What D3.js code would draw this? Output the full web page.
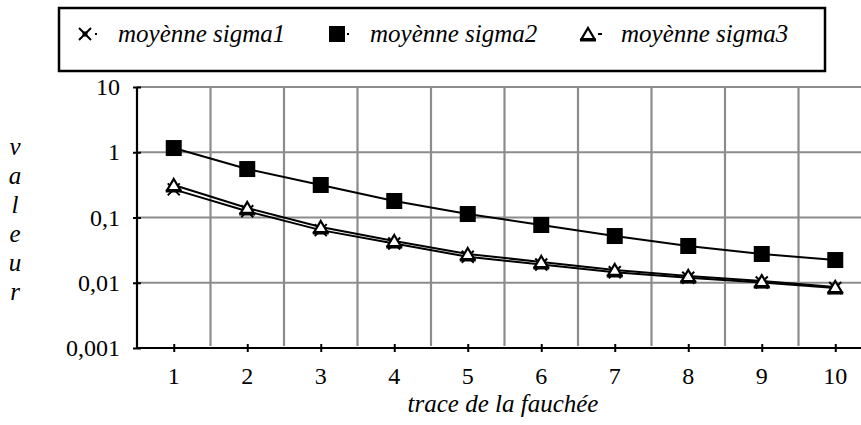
<!DOCTYPE html>
<html>
<head>
<meta charset="utf-8">
<script src="https://cdn.jsdelivr.net/npm/d3@7"></script>
<style>
  html, body { margin: 0; padding: 0; background: #fff; }
  svg { display: block; }
  text { font-family: "Liberation Serif", "Times New Roman", serif; fill: #000; }
</style>
</head>
<body>
<svg id="chart" width="861" height="425"></svg>
<script>
// Swath trace positions and the three averaged sigma series (log scale)
const categories = [1, 2, 3, 4, 5, 6, 7, 8, 9, 10];
const sigma1 = [0.27, 0.125, 0.064, 0.040, 0.025, 0.019, 0.0145, 0.0119, 0.0101, 0.0083];
const sigma2 = [1.16, 0.553, 0.315, 0.179, 0.113, 0.0767, 0.052, 0.0366, 0.0276, 0.0223];
const sigma3 = [0.315, 0.140, 0.0715, 0.0436, 0.0276, 0.0208, 0.0157, 0.0127, 0.0106, 0.0086];
const yTicks = [0.001, 0.01, 0.1, 1, 10];
const yTickLabels = ["0,001", "0,01", "0,1", "1", "10"];
const seriesNames = ["moyènne sigma1", "moyènne sigma2", "moyènne sigma3"];
const yTitle = "valeur";
const xTitle = "trace de la fauchée";

const svg = d3.select("#chart");
const W = 861;
const plot = { left: 137, top: 87, bottom: 348, width: 735 };
const TICK_FS = 24;
const TITLE_FS = 25;

const x = d3.scalePoint().domain(categories)
  .range([plot.left, plot.left + plot.width]).padding(0.5);
const step = x.step();
const y = d3.scaleLog().domain([0.001, 10]).range([plot.bottom, plot.top]);

function label(parent, px, py, str, anchor, italic, size) {
  return parent.append("text")
    .attr("x", px).attr("y", py)
    .attr("text-anchor", anchor || "start")
    .attr("font-size", size)
    .attr("font-style", italic ? "italic" : "normal")
    .text(str);
}

const grid = svg.append("g").attr("stroke", "#8c8c8c").attr("stroke-width", 2.2);
// horizontal gridlines at each decade above the floor
grid.selectAll("line.h").data(yTicks.slice(1)).join("line")
  .attr("class", "h")
  .attr("x1", plot.left).attr("x2", W)
  .attr("y1", d => y(d)).attr("y2", d => y(d));
// vertical gridlines between categories
grid.selectAll("line.v").data(categories).join("line")
  .attr("class", "v")
  .attr("x1", d => x(d) + step / 2).attr("x2", d => x(d) + step / 2)
  .attr("y1", plot.top).attr("y2", plot.bottom - 2);

// Y axis: crossing tick marks plus comma-decimal labels
const yAxis = svg.append("g")
  .attr("transform", `translate(${plot.left},0)`)
  .call(d3.axisLeft(y).tickValues(yTicks).tickFormat("").tickSize(4));
yAxis.select(".domain").remove();
yAxis.selectAll(".tick line").attr("x1", -4).attr("x2", 4)
  .attr("stroke", "#000").attr("stroke-width", 2);
const yLabels = svg.append("g");
yTicks.forEach((t, i) => label(yLabels, plot.left - 17, y(t) + 8, yTickLabels[i], "end", false, TICK_FS));
svg.append("line").attr("x1", plot.left).attr("x2", plot.left)
  .attr("y1", plot.top).attr("y2", plot.bottom + 1)
  .attr("stroke", "#000").attr("stroke-width", 2.2);

// X axis: crossing tick marks at each category
const xAxis = svg.append("g")
  .attr("transform", `translate(0,${plot.bottom})`)
  .call(d3.axisBottom(x).tickFormat("").tickSize(4));
xAxis.select(".domain").remove();
xAxis.selectAll(".tick line").attr("y1", -4).attr("y2", 4)
  .attr("stroke", "#000").attr("stroke-width", 2);
const xLabels = svg.append("g");
categories.forEach(c => label(xLabels, x(c), 384, String(c), "middle", false, TICK_FS));
svg.append("line").attr("x1", plot.left - 1).attr("x2", W)
  .attr("y1", plot.bottom).attr("y2", plot.bottom)
  .attr("stroke", "#000").attr("stroke-width", 2.2);

// axis titles
label(svg, 503, 412, xTitle, "middle", true, TITLE_FS);
const yt = svg.append("g");
yTitle.split("").forEach((ch, i) => label(yt, 15, 155 + i * 29, ch, "middle", true, TITLE_FS));

// marker shapes
function drawMarker(g, type) {
  if (type === "x") {
    g.append("path").attr("d", "M-6,-6L6,6M6,-6L-6,6")
      .attr("stroke", "#000").attr("stroke-width", 2).attr("fill", "none");
    g.append("rect").attr("x", -2.5).attr("y", -2.5).attr("width", 5).attr("height", 5).attr("fill", "#000");
  } else if (type === "square") {
    g.append("rect").attr("x", -8).attr("y", -8).attr("width", 16).attr("height", 16).attr("fill", "#000");
  } else {
    g.append("path").attr("d", "M0,-6L6.5,5L-6.5,5Z")
      .attr("fill", "#fff").attr("stroke", "#000").attr("stroke-width", 2.2);
    g.append("rect").attr("x", -8).attr("y", 4.5).attr("width", 16).attr("height", 3).attr("fill", "#000");
  }
}

const series = [
  { values: sigma1, marker: "x" },
  { values: sigma2, marker: "square" },
  { values: sigma3, marker: "triangle" }
];
const line = d3.line().x((d, i) => x(categories[i])).y(d => y(d));

series.forEach(s => {
  const g = svg.append("g");
  g.append("path").datum(s.values).attr("d", line)
    .attr("fill", "none").attr("stroke", "#000").attr("stroke-width", 2);
  g.selectAll("g.m").data(s.values).join("g").attr("class", "m")
    .attr("transform", (d, i) => `translate(${x(categories[i])},${y(d)})`)
    .each(function () { drawMarker(d3.select(this), s.marker); });
});

// legend box
const legend = svg.append("g");
legend.append("rect").attr("x", 59).attr("y", 8).attr("width", 766).attr("height", 63)
  .attr("fill", "#fff").attr("stroke", "#000").attr("stroke-width", 2.5);
const legendX = [85, 337, 588];
series.forEach((s, i) => {
  const g = legend.append("g").attr("transform", `translate(${legendX[i]},34)`);
  drawMarker(g, s.marker);
  g.append("line").attr("x1", 10).attr("x2", i === 2 ? 14 : 12).attr("y1", 0).attr("y2", 0)
    .attr("stroke", "#000").attr("stroke-width", 2);
  label(legend, legendX[i] + 33, 42, seriesNames[i], "start", true, TITLE_FS);
});
</script>
</body>
</html>
